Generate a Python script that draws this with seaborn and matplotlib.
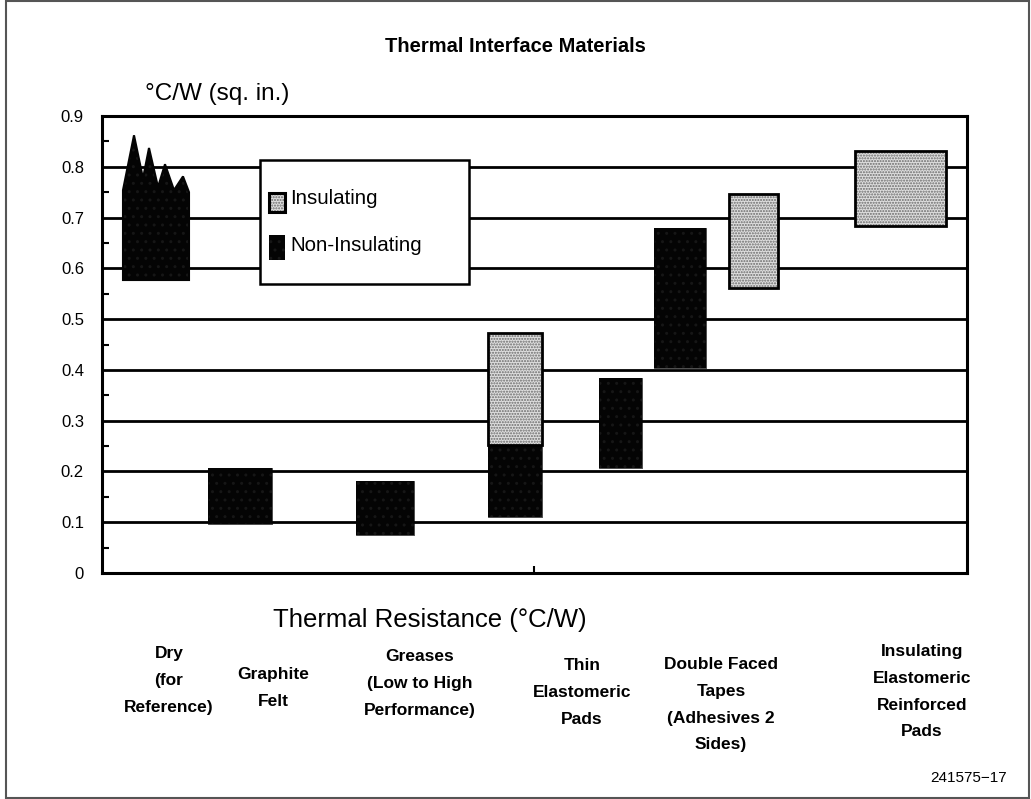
import matplotlib
matplotlib.use("Agg")
import matplotlib.pyplot as plt
import seaborn as sns
import numpy as np
from matplotlib.patches import Rectangle

# ---------------- data ----------------
categories = [
    "Dry\n(for\nReference)",
    "Graphite\nFelt",
    "Greases\n(Low to High\nPerformance)",
    "Thin\nElastomeric\nPads",
    "Double Faced\nTapes\n(Adhesives 2\nSides)",
    "Insulating\nElastomeric\nReinforced\nPads",
]
# one entry per drawn range (category index, kind, low, high)
seg_category = [0, 1, 2, 3, 3, 4, 4, 4, 5]
seg_kind = ["Non-Insulating", "Non-Insulating", "Non-Insulating", "Non-Insulating",
            "Insulating", "Non-Insulating", "Non-Insulating", "Insulating", "Insulating"]
seg_low = [0.577, 0.096, 0.075, 0.110, 0.252, 0.206, 0.404, 0.561, 0.683]
seg_high = [0.754, 0.206, 0.181, 0.252, 0.472, 0.384, 0.679, 0.746, 0.831]
# jagged top of the "Dry" range
dry_peaks = [0.862, 0.837, 0.805, 0.781]
dry_valleys = [0.777, 0.760, 0.754]
dry_right_edge = 0.750

yticks = [0, 0.1, 0.2, 0.3, 0.4, 0.5, 0.6, 0.7, 0.8, 0.9]
ytick_labels = ["0", "0.1", "0.2", "0.3", "0.4", "0.5", "0.6", "0.7", "0.8", "0.9"]

# ---------------- layout (pixel columns of the figure) ----------------
W, H = 1031, 799
seg_left = [123, 208, 356, 488, 488, 599, 654, 729, 855]
seg_right = [189, 272, 414, 542, 542, 642, 706, 778, 946]
dry_peak_x = [134, 149, 165, 183]
dry_valley_x = [143, 158, 174]
label_x = [169, 273, 420, 582, 721, 922]
label_top = [652, 673, 655, 664, 663, 650]

sns.set_theme(style="white")
plt.rcParams["font.family"] = ["Liberation Sans", "DejaVu Sans"]
plt.rcParams["text.color"] = "black"
plt.rcParams["ytick.color"] = "black"
plt.rcParams["xtick.color"] = "black"
plt.rcParams["hatch.linewidth"] = 1.0
narrow = ["Liberation Sans", "DejaVu Sans"]

fig = plt.figure(figsize=(W / 100, H / 100), dpi=100)
fig.patch.set_facecolor("white")

def fx(px):
    return px / W

def fy(py):
    return 1 - py / H

ax_l, ax_r, ax_t, ax_b = 102, 967, 116, 573
ax = fig.add_axes([fx(ax_l), fy(ax_b), fx(ax_r) - fx(ax_l), fy(ax_t) - fy(ax_b)])
ax.set_xlim(ax_l, ax_r)
ax.set_ylim(0, 0.9)

# gridlines
for v in yticks[1:-1]:
    ax.axhline(v, color="black", lw=2.0, zorder=1)

styles = {
    "Insulating": dict(face="#dedede", hatch="......", hcol="#6a6a6a", edge="black", elw=2.0),
    "Non-Insulating": dict(face="#040404", hatch="..", hcol="#161616", edge="#040404", elw=0.5),
}

def draw_range(x0, x1, lo, hi, kind):
    st = styles[kind]
    ax.bar([(x0 + x1) / 2], [hi - lo], width=x1 - x0, bottom=[lo],
           color=st["face"], hatch=st["hatch"], edgecolor=st["hcol"], linewidth=0, zorder=3)
    ax.bar([(x0 + x1) / 2], [hi - lo], width=x1 - x0, bottom=[lo],
           facecolor="none", edgecolor=st["edge"], linewidth=st["elw"], zorder=4)

for i in range(len(seg_low)):
    if seg_category[i] == 0:
        # jagged polygon for the dry reference
        xs = [seg_left[i], seg_left[i]]
        ys = [seg_low[i], seg_high[i]]
        for k in range(len(dry_peaks)):
            xs.append(dry_peak_x[k]); ys.append(dry_peaks[k])
            if k < len(dry_valleys):
                xs.append(dry_valley_x[k]); ys.append(dry_valleys[k])
        xs += [seg_right[i], seg_right[i]]
        ys += [dry_right_edge, seg_low[i]]
        st = styles[seg_kind[i]]
        ax.fill(xs, ys, facecolor=st["face"], hatch=st["hatch"], edgecolor=st["hcol"],
                linewidth=0, zorder=3)
        ax.fill(xs, ys, facecolor="none", edgecolor=st["edge"], linewidth=1.5, zorder=4)
    else:
        draw_range(seg_left[i], seg_right[i], seg_low[i], seg_high[i], seg_kind[i])

# axes styling
for s in ax.spines.values():
    s.set_color("black")
    s.set_linewidth(2.2)
    s.set_visible(True)
ax.set_yticks(yticks)
ax.set_yticklabels(ytick_labels, fontsize=12, color="black")
ax.set_yticks([0.05 + 0.1 * k for k in range(9)], minor=True)
ax.tick_params(axis="y", which="major", length=0, pad=13, labelcolor="black")
ax.tick_params(axis="y", which="minor", direction="in", length=5, width=1.5, color="black", left=True)
ax.set_xticks([534])
ax.set_xticklabels([""])
ax.tick_params(axis="x", which="major", direction="in", length=5, width=1.5, color="black", bottom=True)
ax.grid(False)

# legend box (drawn manually)
leg = Rectangle((fx(260), fy(284)), fx(469) - fx(260), fy(160) - fy(284),
                transform=fig.transFigure, facecolor="white", edgecolor="black", lw=1.8, zorder=10)
fig.add_artist(leg)
sw1 = Rectangle((fx(269), fy(212)), fx(285) - fx(269), fy(193) - fy(212), transform=fig.transFigure,
                facecolor=styles["Insulating"]["face"], hatch="......", edgecolor="#6a6a6a", lw=0, zorder=11)
fig.add_artist(sw1)
fig.add_artist(Rectangle((fx(269), fy(212)), fx(285) - fx(269), fy(193) - fy(212), transform=fig.transFigure,
                         facecolor="none", edgecolor="black", lw=2.2, zorder=12))
sw2 = Rectangle((fx(269), fy(260)), fx(285) - fx(269), fy(235) - fy(260), transform=fig.transFigure,
                facecolor="#040404", hatch="..", edgecolor="#161616", lw=0, zorder=11)
fig.add_artist(sw2)
fig.text(fx(290), fy(198), "Insulating", fontsize=14.8, va="center", ha="left", zorder=13, color="black")
fig.text(fx(290), fy(246), "Non-Insulating", fontsize=14.8, va="center", ha="left", zorder=13, color="black")

# texts
fig.text(fx(515), fy(46), "Thermal Interface Materials", fontsize=14.5, fontweight="bold",
         family=narrow, ha="center", va="center", color="black")
fig.text(fx(145), fy(94), "°C/W (sq. in.)", fontsize=17.5, family=narrow, ha="left", va="center",
         color="black")
fig.text(fx(430), fy(620), "Thermal Resistance (°C/W)", fontsize=18.5, family=narrow,
         ha="center", va="center", color="black")
for k, lab in enumerate(categories):
    fig.text(fx(label_x[k]), fy(label_top[k] - 6), lab, fontsize=12.5, fontweight="bold",
             family=narrow, ha="center", va="top", linespacing=1.98, color="black")
fig.text(fx(1007), fy(778), "241575\u221217", fontsize=11, ha="right", va="center", color="black")

# outer frame
fig.add_artist(Rectangle((fx(6), fy(798)), fx(1029) - fx(6), fy(1) - fy(798), transform=fig.transFigure,
                         facecolor="none", edgecolor="#555555", lw=1.5, zorder=20))

fig.savefig("out.png", dpi=100, facecolor="white")
